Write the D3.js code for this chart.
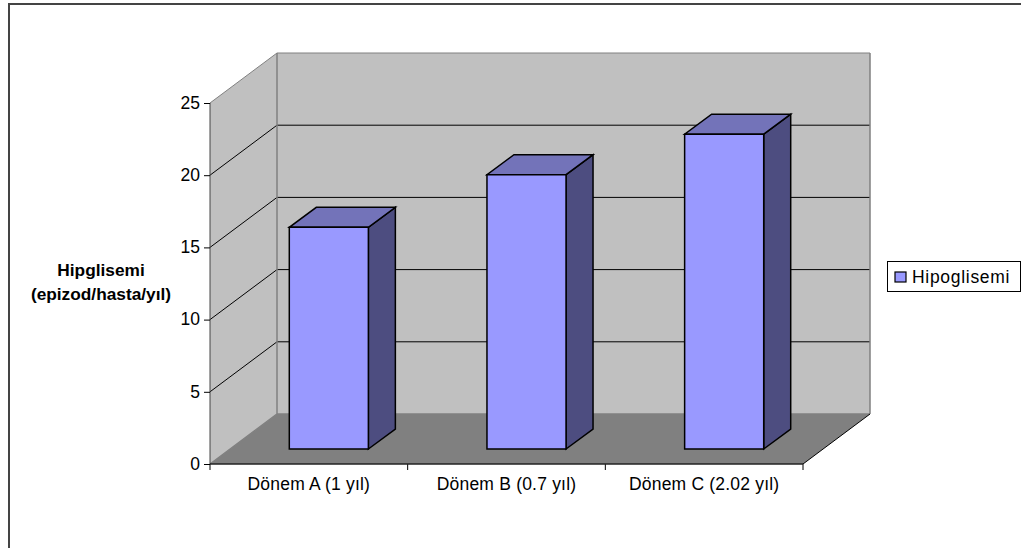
<!DOCTYPE html>
<html>
<head>
<meta charset="utf-8">
<script src="https://cdn.jsdelivr.net/npm/d3@7/dist/d3.min.js"></script>
<style>
html,body{margin:0;padding:0;background:#fff}
svg{display:block}
text{font-family:"Liberation Sans",Arial,sans-serif;fill:#000}
</style>
</head>
<body>
<svg id="chart" width="1021" height="548"></svg>
<script>
const categories = ["Dönem A (1 yıl)", "Dönem B (0.7 yıl)", "Dönem C (2.02 yıl)"];
const seriesName = "Hipoglisemi";
const values = [15.35, 19, 21.8];
const yTicks = [0, 5, 10, 15, 20, 25];
const yTitle = ["Hipglisemi", "(epizod/hasta/yıl)"];

const svg = d3.select("#chart");
const W = 1021, H = 548;

// Oblique projection: the floor recedes up and to the right
const depth = {dx: 67, dy: -50};
const barShift = {dx: 20, dy: -15};
const barDepth = {dx: 27, dy: -20};

const x = d3.scaleBand().domain(categories).range([210, 803]).paddingInner(0).paddingOuter(0);
const y = d3.scaleLinear().domain([0, 25]).range([464, 103]);
const x0 = 210, x1 = 803, y0 = y(0), yT = y(25);

const poly = (pts, fill, stroke, sw) => svg.append("polygon")
  .attr("points", pts.map(p => p.join(",")).join(" "))
  .attr("fill", fill).attr("stroke", stroke || "none").attr("stroke-width", sw || 0)
  .attr("stroke-linejoin", "miter");

// Outer chart frame, open at the right and the bottom
svg.append("path").attr("d", `M9,${H}V4H${W}`).attr("fill", "none")
  .attr("stroke", "#444").attr("stroke-width", 2);

// Walls and floor
poly([[x0+depth.dx, y0+depth.dy],[x1+depth.dx, y0+depth.dy],[x1+depth.dx, yT+depth.dy],[x0+depth.dx, yT+depth.dy]], "#c0c0c0");
poly([[x0, y0],[x0+depth.dx, y0+depth.dy],[x0+depth.dx, yT+depth.dy],[x0, yT]], "#c0c0c0");
poly([[x0, y0],[x1, y0],[x1+depth.dx, y0+depth.dy],[x0+depth.dx, y0+depth.dy]], "#808080");

// Gridlines on the side and back walls
svg.append("g").selectAll("path").data(yTicks.slice(1)).join("path")
  .attr("fill", "none").attr("stroke", d => d === 25 ? "#808080" : "#000").attr("stroke-width", 1)
  .attr("d", d => `M${x0},${y(d)}L${x0+depth.dx},${y(d)+depth.dy}H${x1+depth.dx}`);

// Wall edges
svg.append("path").attr("fill", "none").attr("stroke", "#808080").attr("stroke-width", 1.5)
  .attr("d", `M${x0+depth.dx},${yT+depth.dy}V${y0+depth.dy}M${x1+depth.dx},${yT+depth.dy}V${y0+depth.dy}M${x0},${y0}L${x0+depth.dx},${y0+depth.dy}H${x1+depth.dx}`);
svg.append("path").attr("fill", "none").attr("stroke", "#000").attr("stroke-width", 1)
  .attr("d", `M${x1},${y0}L${x1+depth.dx},${y0+depth.dy}`);

// Axes on the front edge of the box
const yAxis = d3.axisLeft(y).tickValues(yTicks).tickSize(6).tickPadding(4);
const gy = svg.append("g").attr("transform", `translate(${x0},0)`).call(yAxis);
gy.select(".domain").attr("stroke", "#444").attr("d", `M0,${yT}V${y0}`);
gy.selectAll("text").attr("font-size", 17.5).attr("font-family", '"Liberation Sans"').attr("dy", "0.3em");

const xAxis = d3.axisBottom(x).tickSize(0).tickPadding(14);
const gx = svg.append("g").attr("transform", `translate(0,${y0})`).call(xAxis);
gx.select(".domain").remove();
gx.selectAll("text").attr("font-size", 17.5).attr("font-family", '"Liberation Sans"').attr("letter-spacing", 0.2);
svg.append("g").attr("transform", `translate(0,${y0})`).selectAll("line")
  .data([x0, x0 + x.step(), x0 + 2 * x.step(), x1]).join("line")
  .attr("x1", d => d).attr("x2", d => d).attr("y1", 0).attr("y2", 6).attr("stroke", "#000");
svg.append("line").attr("x1", x0).attr("x2", x1).attr("y1", y0).attr("y2", y0)
  .attr("stroke", "#222").attr("stroke-width", 1.5);

// Extruded bars
const barW = x.step() * 0.4;
const yb = d3.scaleLinear().domain([0, 25]).range([y0 + barShift.dy, yT + barShift.dy]);
const bars = svg.append("g").selectAll("g").data(values).join("g");
bars.each(function(v, i) {
  const g = d3.select(this);
  const l = x(categories[i]) + x.step() / 2 - barW / 2 + barShift.dx;
  const r = l + barW, t = yb(v), b = yb(0);
  const {dx, dy} = barDepth;
  const face = (pts, fill) => g.append("polygon")
    .attr("points", pts.map(p => p.join(",")).join(" "))
    .attr("fill", fill).attr("stroke", "#000").attr("stroke-width", 1.5);
  face([[r, b],[r + dx, b + dy],[r + dx, t + dy],[r, t]], "#4d4d80");
  face([[l, t],[r, t],[r + dx, t + dy],[l + dx, t + dy]], "#7373b9");
  face([[l, b],[r, b],[r, t],[l, t]], "#9999ff");
});

// Axis title
svg.append("text").attr("text-anchor", "middle").attr("font-size", 17.3).attr("font-weight", "bold")
  .selectAll("tspan").data(yTitle).join("tspan")
  .attr("x", 101).attr("y", (d, i) => 276 + i * 24).text(d => d);

// Legend
const lg = svg.append("g");
lg.append("rect").attr("x", 887.5).attr("y", 261.5).attr("width", 133).attr("height", 30)
  .attr("fill", "#fff").attr("stroke", "#000");
lg.append("rect").attr("x", 895).attr("y", 272).attr("width", 11).attr("height", 10)
  .attr("fill", "#9999ff").attr("stroke", "#000").attr("stroke-width", 1.2);
lg.append("text").attr("x", 912).attr("y", 282.5).attr("font-size", 17.5).attr("letter-spacing", 0.7).text(seriesName);
</script>
</body>
</html>
